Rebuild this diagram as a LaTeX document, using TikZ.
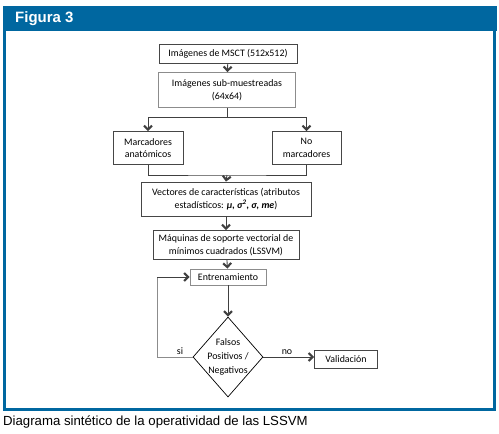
\documentclass[tikz,border=0pt]{standalone}
\usepackage{fontspec}
\setmainfont{Carlito}
\newfontfamily\arialfont{Liberation Sans}
\usetikzlibrary{arrows.meta,shapes.geometric}
\definecolor{hdrblue}{RGB}{0,103,160}
\definecolor{boxgray}{RGB}{70,70,70}
\begin{document}
\begin{tikzpicture}[x=1pt,y=-1pt,
  flowbox/.style={draw=boxgray,line width=0.8pt,fill=white,inner sep=1pt,align=center,font=\fontsize{9.9}{12.5}\selectfont},
  lightbox/.style={flowbox,draw=black!45},
  decbox/.style={diamond,draw=black,line width=0.7pt,inner xsep=-5pt,inner ysep=0pt,align=center,font=\fontsize{9.9}{14}\selectfont},
  conn/.style={draw=black!75,line width=0.9pt},
  arr/.style={conn,-{Straight Barb[length=4pt,width=8pt,line width=2.1pt]}},
  lbl/.style={font=\fontsize{9.9}{11}\selectfont,inner sep=1pt}]
\useasboundingbox (0,0) rectangle (499,434);
% header and frame
\fill[hdrblue] (3,6) rectangle (497,31);
\node[anchor=west,text=white,font=\arialfont\bfseries\fontsize{15}{15}\selectfont,inner sep=0pt] (title) at (15,19) {Figura 3};
\draw[hdrblue,line width=2.6pt] (4.5,31) -- (4.5,409.5) -- (494.5,409.5) -- (494.5,31);
% nodes
\node[flowbox,minimum width=138pt,minimum height=19pt] (b1) at (228,54) {Imágenes de MSCT (512x512)};
\node[lightbox,minimum width=137pt,minimum height=35pt] (b2) at (227,90) {Imágenes sub-muestreadas\\(64x64)};
\node[flowbox,minimum width=70pt,minimum height=33pt] (b3) at (148,148) {Marcadores\\anatómicos};
\node[flowbox,minimum width=69pt,minimum height=33pt] (b4) at (306.5,148) {No\\marcadores};
\node[flowbox,minimum width=170pt,minimum height=34pt] (b5) at (226,199) {Vectores de características (atributos\\estadísticos: \textbf{\textit{μ, σ\textsuperscript{2}, σ, me}})};
\node[flowbox,minimum width=146pt,minimum height=29pt] (b6) at (226,245) {Máquinas de soporte vectorial de\\mínimos cuadrados (LSSVM)};
\node[lightbox,minimum width=76pt,minimum height=16pt] (b7) at (228,277) {Entrenamiento};
\node[decbox,minimum width=70pt,minimum height=80pt] (d) at (228,357) {Falsos\\Positivos /\\Negativos};
\node[flowbox,minimum width=63pt,minimum height=18pt] (v) at (346,359) {Validación};
% connectors
\coordinate (split) at (b2.south |- 0,117);
\coordinate (join) at (b2.south |- 0,175);
\coordinate (loopc) at (157,0);
\draw[arr] (b1) -- (b2);
\draw[conn] (b2.south) -- (split);
\draw[arr] (split) -| (b3.north);
\draw[arr] (split) -| (b4.north);
\draw[conn] (b3.south) |- (join) -| (b4.south);
\draw[arr] (join) -- (b5.north);
\draw[arr] (b5) -- (b6);
\draw[arr] (b6) -- (b7);
\draw[arr] (b7) -- (d.north);
\draw[conn,draw=black!45] (d.west) -- (loopc |- d.west) -- (loopc |- b7.west);
\draw[arr] (loopc |- b7.west) -- (b7.west);
\draw[arr] (d.east) -- (v.west |- d.east);
\node[lbl,anchor=south] (si) at (180,356) {si};
\node[lbl,anchor=south] (no) at (287,356) {no};
% caption
\node[anchor=west,inner sep=0pt,font=\arialfont\fontsize{13.2}{14}\selectfont] (cap) at (3,422) {Diagrama sintético de la operatividad de las LSSVM};
\end{tikzpicture}
\end{document}
